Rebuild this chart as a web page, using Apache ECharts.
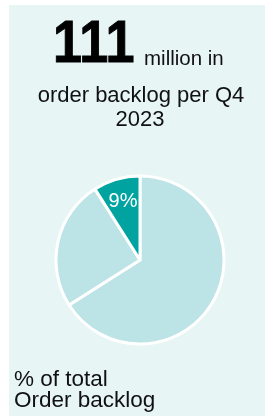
<!DOCTYPE html>
<html>
<head>
<meta charset="utf-8">
<script src="https://cdn.jsdelivr.net/npm/echarts@6/dist/echarts.min.js"></script>
<style>
html,body{margin:0;padding:0;background:#ffffff;}
#chart{width:265px;height:416px;}
</style>
</head>
<body>
<div id="chart"></div>
<script>
var categories = ['Other', 'Segment B', 'Segment A'];
var shares = [66, 25, 9];
var sliceColors = ['#bce3e5', '#bce3e5', '#00a3a0'];
var labelled = ['', '', '9%'];
var headlineNumber = '111';
var headlineUnit = 'million in';
var subtitleLines = ['order backlog per Q4', '2023'];
var footerLines = ['% of total', 'Order backlog'];

var chart = echarts.init(document.getElementById('chart'), null, {renderer: 'canvas'});
var FONT = '"Liberation Sans", Arial, sans-serif';

var pieData = categories.map(function (c, i) {
  return {name: c, value: shares[i], itemStyle: {color: sliceColors[i]}};
});
var labelData = categories.map(function (c, i) {
  return {name: c, value: shares[i], label: {show: labelled[i] !== '', formatter: labelled[i]}};
});

chart.setOption({
  animation: false,
  backgroundColor: '#ffffff',
  graphic: [
    {type: 'rect', z: -10, shape: {x: 9, y: 5, width: 256, height: 411}, style: {fill: '#e7f5f5'}},
    {type: 'text', x: 47, y: 45, scaleX: 0.87, originX: 47, originY: 45,
      style: {text: headlineNumber, font: 'bold 60px ' + FONT, fill: '#000000', align: 'left', verticalAlign: 'middle',
        stroke: '#000000', lineWidth: 1}},
    {type: 'text', x: 144, y: 59.5,
      style: {text: headlineUnit, font: '20.5px ' + FONT, fill: '#111111', align: 'left', verticalAlign: 'middle'}},
    {type: 'text', x: 141, y: 96,
      style: {text: subtitleLines[0], font: '22px ' + FONT, fill: '#111111', align: 'center', verticalAlign: 'middle'}},
    {type: 'text', x: 140, y: 120,
      style: {text: subtitleLines[1], font: '22px ' + FONT, fill: '#111111', align: 'center', verticalAlign: 'middle'}},
    {type: 'text', x: 14, y: 379.5,
      style: {text: footerLines[0], font: '22.5px ' + FONT, fill: '#111111', align: 'left', verticalAlign: 'middle'}},
    {type: 'text', x: 14, y: 400.5,
      style: {text: footerLines[1], font: '22.5px ' + FONT, fill: '#111111', align: 'left', verticalAlign: 'middle'}}
  ],
  series: [
    {
      type: 'pie',
      center: [140, 260],
      radius: [0, 84],
      startAngle: 90,
      clockwise: true,
      silent: true,
      label: {show: false},
      labelLine: {show: false},
      itemStyle: {borderColor: '#ffffff', borderWidth: 3},
      data: pieData
    },
    {
      type: 'pie',
      center: [140, 260],
      radius: [32, 84],
      startAngle: 90,
      clockwise: true,
      silent: true,
      z: 5,
      itemStyle: {color: 'rgba(0,0,0,0)', borderWidth: 0},
      label: {position: 'inside', color: '#ffffff', fontSize: 20, fontFamily: FONT},
      labelLine: {show: false},
      data: labelData
    }
  ]
});
</script>
</body>
</html>
